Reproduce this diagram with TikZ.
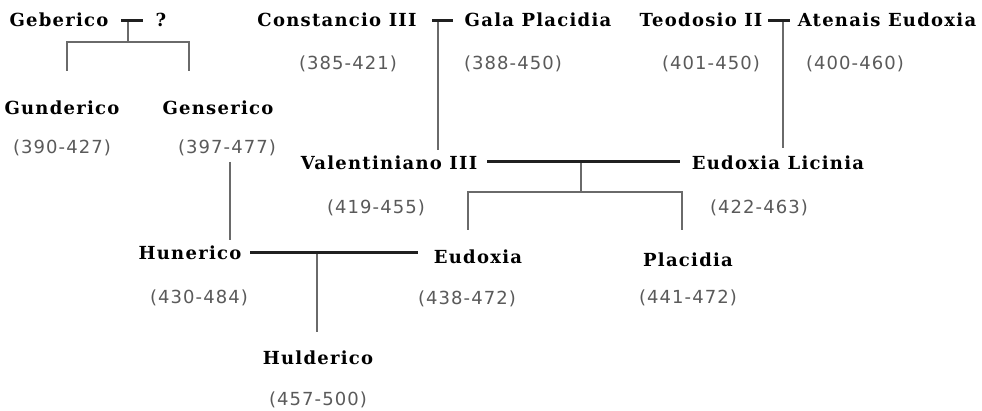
\documentclass[tikz,border=0pt]{standalone}
\usepackage{fontspec}
\setmainfont{DejaVu Serif}
\newfontfamily\namefont[LetterSpace=7]{DejaVu Serif}
\newfontfamily\datefont[LetterSpace=6]{DejaVu Sans}
\definecolor{dategray}{HTML}{5A5A5A}
\definecolor{linegray}{HTML}{6A6A6A}
\definecolor{marrblack}{HTML}{202020}
\tikzset{
  nm/.style={font=\namefont\bfseries\fontsize{18}{20}\selectfont, inner sep=0pt, text=black},
  dt/.style={font=\datefont\fontsize{18}{20}\selectfont, inner sep=0pt, text=dategray},
  marr/.style={line width=3pt, draw=marrblack},
  desc/.style={line width=2pt, draw=linegray},
}
\begin{document}
\begin{tikzpicture}[x=1pt,y=-1pt]
\path[use as bounding box, fill=white] (0,0) rectangle (982,411);

% names
\node[nm] (geb) at (59,20) {Geberico};
\node[nm] (unk) at (161,20) {?};
\node[nm] (gun) at (62,108) {Gunderico};
\node[nm] (gen) at (218,108) {Genserico};
\node[nm] (con) at (337,20) {Constancio III};
\node[nm] (gal) at (538,20) {Gala Placidia};
\node[nm] (teo) at (701,20) {Teodosio II};
\node[nm] (ate) at (887,20) {Atenais Eudoxia};
\node[nm] (val) at (389,163) {Valentiniano III};
\node[nm] (eli) at (778,163) {Eudoxia Licinia};
\node[nm] (hun) at (190,253) {Hunerico};
\node[nm] (eud) at (478,257) {Eudoxia};
\node[nm] (pla) at (688,260) {Placidia};
\node[nm] (hul) at (318,358) {Hulderico};

% dates
\node[dt] (dgun) at (62,148) {(390-427)};
\node[dt] (dgen) at (227,148) {(397-477)};
\node[dt] (dcon) at (348,64) {(385-421)};
\node[dt] (dgal) at (513,64) {(388-450)};
\node[dt] (dteo) at (711,64) {(401-450)};
\node[dt] (date) at (855,64) {(400-460)};
\node[dt] (dval) at (376,208) {(419-455)};
\node[dt] (deli) at (759,208) {(422-463)};
\node[dt] (dhun) at (199,298) {(430-484)};
\node[dt] (deud) at (467,299) {(438-472)};
\node[dt] (dpla) at (688,298) {(441-472)};
\node[dt] (dhul) at (318,400) {(457-500)};

% coordinates
\coordinate (m1a) at (121,21); \coordinate (m1b) at (143,21);
\coordinate (m1c) at (128,21); \coordinate (m1d) at (128,42);
\coordinate (g1) at (67,42); \coordinate (g2) at (189,42);
\coordinate (g1e) at (67,71); \coordinate (g2e) at (189,71);

\coordinate (m2a) at (432,21); \coordinate (m2b) at (453,21);
\coordinate (m2c) at (438,21); \coordinate (m2e) at (438,150);

\coordinate (m3a) at (768,21); \coordinate (m3b) at (790,21);
\coordinate (m3c) at (783,21); \coordinate (m3e) at (783,148);

\coordinate (m4a) at (487,162); \coordinate (m4b) at (680,162);
\coordinate (m4c) at (581,162); \coordinate (m4d) at (581,192);
\coordinate (c1) at (468,192); \coordinate (c2) at (682,192);
\coordinate (c1e) at (468,230); \coordinate (c2e) at (682,230);

\coordinate (gs) at (230,162); \coordinate (ge) at (230,240);

\coordinate (m5a) at (250,253); \coordinate (m5b) at (418,253);
\coordinate (m5c) at (317,253); \coordinate (m5e) at (317,332);

% descent lines
\draw[desc] (m1c) -- (m1d);
\draw[desc] (g1e) -- (g1) -- (g2) -- (g2e);
\draw[desc] (m2c) -- (m2e);
\draw[desc] (m3c) -- (m3e);
\draw[desc] (m4c) -- (m4d);
\draw[desc] (c1e) -- (c1) -- (c2) -- (c2e);
\draw[desc] (gs) -- (ge);
\draw[desc] (m5c) -- (m5e);

% marriage lines
\draw[marr] (m1a) -- (m1b);
\draw[marr] (m2a) -- (m2b);
\draw[marr] (m3a) -- (m3b);
\draw[marr] (m4a) -- (m4b);
\draw[marr] (m5a) -- (m5b);
\end{tikzpicture}
\end{document}
